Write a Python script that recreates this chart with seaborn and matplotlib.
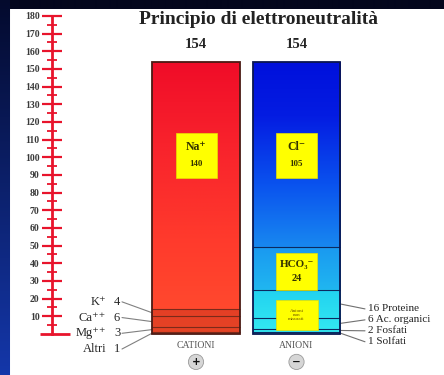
import numpy as np
import pandas as pd
import matplotlib
matplotlib.use("Agg")
import matplotlib.pyplot as plt
from matplotlib.colors import LinearSegmentedColormap
from matplotlib.patches import Rectangle
import seaborn as sns

# ---- data -------------------------------------------------------------
title = "Principio di elettroneutralità"
columns = ["CATIONI", "ANIONI"]
column_signs = ["+", "\u2212"]

cation_names = ["Altri", "Mg⁺⁺", "Ca⁺⁺", "K⁺", "Na⁺"]
cation_values = [1, 3, 6, 4, 140]

anion_names = ["Solfati", "Fosfati", "Ac. organici", "Proteine", "HCO₃⁻", "Cl⁻"]
anion_values = [1, 2, 6, 16, 24, 105]
unmeasured_label = "Anioni\nnon\nmisurati"

scale_major = list(range(10, 190, 10))
scale_minor = list(range(5, 180, 10))

# ---- style ------------------------------------------------------------
sns.set_theme(style="white")
plt.rcParams["font.family"] = ["Liberation Serif", "DejaVu Serif"]

W, H = 444, 375
RED = "#e8142c"
fig = plt.figure(figsize=(W / 100, H / 100), dpi=100)

# slide backdrop: dark navy frame with a bluish left strip, white panel
bg = fig.add_axes([0, 0, 1, 1], zorder=0)
bg.set_axis_off()
img = np.zeros((H, W, 3))
img[:] = np.array([3, 6, 28]) / 255
rows = np.linspace(0, 1, H)[:, None]
top_c = np.array([4, 10, 45]) / 255
bot_c = np.array([20, 55, 170]) / 255
img[:, :10] = (top_c * (1 - rows) + bot_c * rows)[:, None, :].repeat(10, axis=1)
img[9:, 10:] = 1.0
bg.imshow(img, extent=[0, W, H, 0], aspect="auto", interpolation="bilinear")
bg.set_xlim(0, W)
bg.set_ylim(H, 0)

# ---- main axes: x in panel pixels, y in mEq/L --------------------------
ax = fig.add_axes([0, 0, 1, 1], zorder=1)
ax.patch.set_alpha(0)

totals = [sum(cation_values), sum(anion_values)]
centers = [196.0, 296.5]
bar_w = 87.5
df = pd.DataFrame({"colonna": columns, "pos": centers, "totale": totals})
sns.barplot(data=df, x="pos", y="totale", native_scale=True,
            width=bar_w / (centers[1] - centers[0]), color="white",
            errorbar=None, ax=ax)

cat_cum = np.cumsum(cation_values)
an_cum = np.cumsum(anion_values)

red_cmap = LinearSegmentedColormap.from_list(
    "cat", [(0.0, "#ff4e2e"), (0.35, "#ff3a2c"), (0.7, "#f8222c"),
            (1.0, "#f00c28")])
f1 = an_cum[3] / totals[1]
f2 = an_cum[4] / totals[1]
blue_cmap = LinearSegmentedColormap.from_list(
    "an", [(0.0, "#34eaf2"), (f1 - 0.005, "#22d2f0"), (f1, "#20b6f0"),
           (f2 - 0.005, "#1a9af0"), (f2, "#1888f0"), (0.55, "#0a52ee"),
           (0.8, "#041ce2"), (1.0, "#0010dc")])
edge_cols = ["#4a1a14", "#0a1650"]

bars = list(ax.patches)
for patch, cmap, ec in zip(bars, [red_cmap, blue_cmap], edge_cols):
    x0, y0 = patch.get_x(), patch.get_y()
    w, h = patch.get_width(), patch.get_height()
    im = ax.imshow(np.linspace(0, 1, 512)[:, None], cmap=cmap,
                   extent=[x0, x0 + w, y0, y0 + h], origin="lower",
                   aspect="auto", zorder=2, interpolation="bilinear")
    im.set_clip_path(patch)
    patch.set_facecolor("none")
    patch.set_edgecolor(ec)
    patch.set_linewidth(1.3)
    patch.set_zorder(4)

cat_bar, an_bar = bars
cx0, cx1 = cat_bar.get_x(), cat_bar.get_x() + cat_bar.get_width()
ax0, ax1 = an_bar.get_x(), an_bar.get_x() + an_bar.get_width()

# small cations shaded slightly darker
small_cat = sum(cation_values[:-1])
ax.add_patch(Rectangle((cx0, 0), cx1 - cx0, small_cat, facecolor="#5a1000",
                       alpha=0.16, lw=0, zorder=3))

# segment boundaries
ax.hlines(cat_cum[:-1], cx0, cx1, color="#7a2a1a", lw=0.8, zorder=3.5)
ax.hlines(an_cum[:-1], ax0, ax1, color="#0c2a60", lw=0.8, zorder=3.5)

# totals above the bars
for c, t in zip(centers, totals):
    ax.text(c, t + 10, f"{t}", ha="center", va="center", fontsize=10.5,
            fontweight="bold", color="#222222")

ax.text(258, 177.8, title, ha="center", va="center", fontsize=14,
        fontweight="bold", color="#222222")

# yellow labels inside the bars
def yellow_box(xc, yc, w_px, h_units):
    ax.add_patch(Rectangle((xc - w_px / 2, yc - h_units / 2), w_px, h_units,
                           facecolor="#ffff00", edgecolor="#e8e000", lw=0.5,
                           zorder=5))

box_y = 101
yellow_box(centers[0], box_y, 41, 25.5)
ax.text(centers[0], box_y + 4.8, cation_names[-1], ha="center", va="center",
        fontsize=8.5, fontweight="bold", color="#333300", zorder=6)
ax.text(centers[0], box_y - 4.8, f"{cation_values[-1]}", ha="center",
        va="center", fontsize=6.5, fontweight="bold", color="#333300", zorder=6)

yellow_box(centers[1], box_y, 41, 25.5)
ax.text(centers[1], box_y + 4.8, anion_names[-1], ha="center", va="center",
        fontsize=8.5, fontweight="bold", color="#333300", zorder=6)
ax.text(centers[1], box_y - 4.8, f"{anion_values[-1]}", ha="center",
        va="center", fontsize=6.5, fontweight="bold", color="#333300", zorder=6)

hco3_mid = an_cum[-3] + anion_values[-2] / 2
yellow_box(centers[1], hco3_mid - 1.5, 41, 21)
ax.text(centers[1], hco3_mid + 2.2, anion_names[-2], ha="center", va="center",
        fontsize=8, fontweight="bold", color="#333300", zorder=6)
ax.text(centers[1], hco3_mid - 5.5, f"{anion_values[-2]}", ha="center",
        va="center", fontsize=7.5, fontweight="bold", color="#333300", zorder=6)

unmeasured = an_cum[-3]
yellow_box(centers[1], unmeasured * 0.43, 42, 17)
ax.text(centers[1], unmeasured * 0.43, unmeasured_label, ha="center",
        va="center", fontsize=3.6, color="#6a5200", linespacing=1.0, zorder=6)

# small cations, labelled on the left with leader lines
for i, (name, val) in enumerate(zip(cation_names[-2::-1], cation_values[-2::-1])):
    ly = 18.2 - i * 8.9
    lo = cat_cum[len(cation_values) - 2 - i] - val
    ax.text(106, ly, name, ha="right", va="center", fontsize=9,
            color="#262626")
    ax.text(117, ly, f"{val}", ha="center", va="center", fontsize=9,
            color="#262626")
    ax.plot([122, cx0], [ly, lo + val / 2], color="#808080", lw=0.8, zorder=3)

# unmeasured anions, labelled on the right
for i, (name, val) in enumerate(zip(anion_names[3::-1], anion_values[3::-1])):
    ly = 14.2 - i * 6.2
    lo = an_cum[3 - i] - val
    ax.text(368, ly, f"{val} {name}", ha="left", va="center", fontsize=8,
            color="#222222")
    ax.plot([ax1, 365], [lo + val / 2, ly], color="#707070", lw=0.8, zorder=3)

# column names and charge signs
for c, name, sign in zip(centers, columns, column_signs):
    ax.text(c, -6.3, name, ha="center", va="center", fontsize=7,
            color="#555555")
    ax.text(c, -15.8, sign, ha="center", va="center", fontsize=7.5,
            fontweight="bold", color="#111111", family="DejaVu Sans",
            bbox=dict(boxstyle="circle,pad=0.25", fc="#d6d6d6", ec="#9a9a9a",
                      lw=0.6))

# red ruler built from the y axis
for s in ["top", "right", "bottom"]:
    ax.spines[s].set_visible(False)
ax.spines["left"].set_position(("data", 52))
ax.spines["left"].set_bounds(0, 180)
ax.spines["left"].set_color(RED)
ax.spines["left"].set_linewidth(2)
ax.set_yticks(scale_major)
ax.set_yticks(scale_minor, minor=True)
ax.tick_params(axis="y", which="major", direction="inout", length=15,
               width=1.6, color=RED, labelsize=7, pad=1.5,
               labelcolor="#3a3a3a", left=True)
ax.tick_params(axis="y", which="minor", direction="inout", length=7,
               width=1.3, color=RED, left=True)
for lbl in ax.get_yticklabels():
    lbl.set_fontweight("bold")
ax.hlines(0, 40, 70, color=RED, lw=2, zorder=3)
ax.set_xticks([])
ax.set_xlabel("")
ax.set_ylabel("")

ax.set_xlim(0, W)
ax.set_ylim(-23.21, 189.05)

fig.savefig("out.png", dpi=100)
